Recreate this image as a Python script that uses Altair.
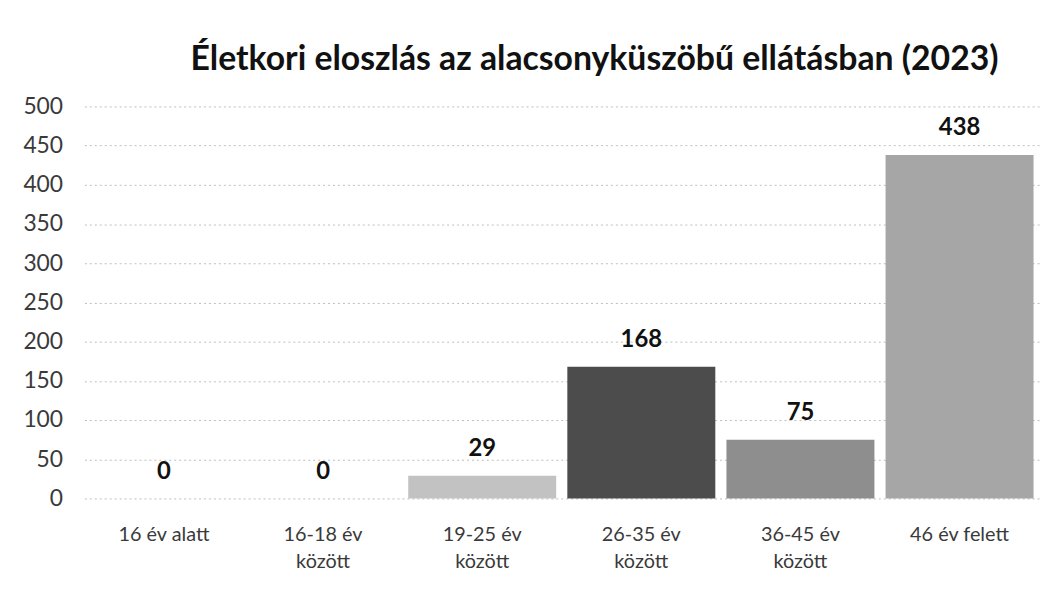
import altair as alt
import pandas as pd

categories = ["16 év alatt", "16-18 év között", "19-25 év között",
              "26-35 év között", "36-45 év között", "46 év felett"]
values = [0, 0, 29, 168, 75, 438]
bar_colors = ["#b8b8b8", "#b8b8b8", "#c2c2c2", "#4c4c4c", "#8e8e8e", "#a6a6a6"]
y_ticks = [0, 50, 100, 150, 200, 250, 300, 350, 400, 450, 500]

df = pd.DataFrame({"kat": categories, "ertek": values, "szin": bar_colors})

x = alt.X("kat:N", sort=categories, title=None,
          scale=alt.Scale(paddingInner=0.07, paddingOuter=0.035),
          axis=alt.Axis(labelAngle=0, domain=False, ticks=False, grid=False,
                        labelFont="Lato", labelFontSize=20, labelColor="#3a3a3a",
                        labelPadding=26, labelLineHeight=28, labelBaseline="top",
                        labelExpr="split(replace(datum.label, ' között', '|között'), '|')"))
y = alt.Y("ertek:Q", title=None,
          scale=alt.Scale(domain=[0, 500], nice=False),
          axis=alt.Axis(values=y_ticks, domain=False, ticks=False,
                        grid=True, gridColor="#bdbdbd", gridDash=[2, 3], gridWidth=1,
                        labelFont="Lato", labelFontSize=23, labelColor="#3a3a3a",
                        labelPadding=22))

base = alt.Chart(df)
bars = base.mark_bar().encode(
    x=x, y=y, color=alt.Color("szin:N", scale=None))
labels = base.mark_text(font="Lato", fontSize=24, fontWeight="bold", color="#111111",
                        baseline="middle", dy=-27).encode(
    x=x, y=y, text=alt.Text("ertek:Q"))

chart = (bars + labels).properties(
    width=962, height=395,
    autosize="none",
    padding={"left": 77, "top": 97, "right": 15, "bottom": 83},
    title=alt.TitleParams("Életkori eloszlás az alacsonyküszöbű ellátásban (2023)",
                          font="Lato", fontSize=34, fontWeight="bold", color="#111111",
                          anchor="middle", dx=33, offset=19),
).configure_view(stroke=None)

chart.save("out.html", embed_options={"renderer": "svg", "actions": False})
